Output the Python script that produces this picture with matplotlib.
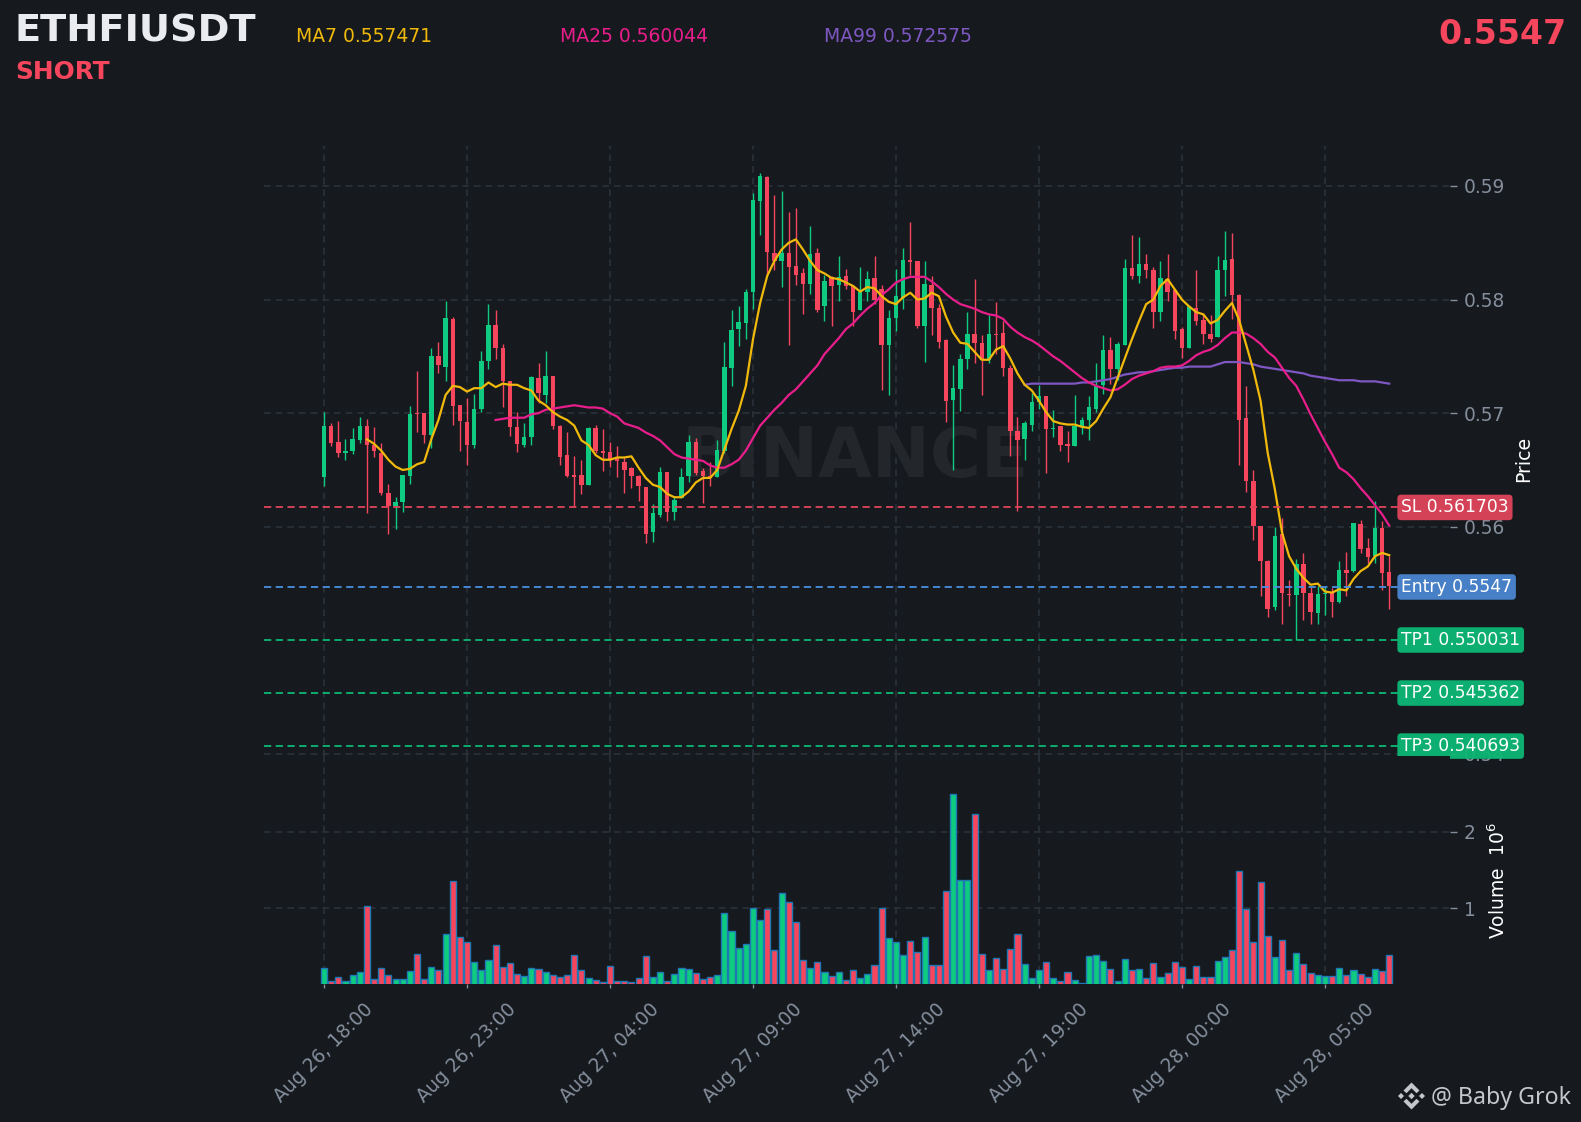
import matplotlib
matplotlib.use('Agg')
import matplotlib.pyplot as plt
from matplotlib.patches import Polygon
from matplotlib.transforms import blended_transform_factory

# candle data (15 min candles)
opens = [
    .5644, .5689, .5675, .5665, .5667, .5676, .5689, .5672, .5665, .5630,
    .5618, .5622, .5645, .5700, .5700, .5681, .5750, .5741, .5783, .5707,
    .5692, .5672, .5704, .5746, .5778, .5757, .5728, .5688, .5672, .5679,
    .5731, .5716, .5733, .5689, .5663, .5646, .5646, .5637, .5687, .5667,
    .5666, .5661, .5657, .5652, .5645, .5635, .5595, .5610, .5648, .5613,
    .5625, .5645, .5675, .5649, .5645, .5644, .5667, .5740, .5774, .5779,
    .5807, .5887, .5908, .5841, .5834, .5841, .5830, .5823, .5814, .5841,
    .5794, .5820, .5813, .5821, .5812, .5791, .5807, .5819, .5809, .5760,
    .5784, .5801, .5835, .5834, .5777, .5813, .5793, .5764, .5712, .5721,
    .5748, .5770, .5762, .5747, .5770, .5771, .5740, .5684, .5677, .5690,
    .5710, .5715, .5686, .5689, .5673, .5671, .5688, .5694, .5704, .5725,
    .5756, .5739, .5760, .5828, .5821, .5831, .5826, .5789, .5818, .5808,
    .5774, .5757, .5793, .5782, .5770, .5767, .5826, .5836, .5804, .5696,
    .5640, .5601, .5570, .5529, .5594, .5541, .5540, .5567, .5542, .5524,
    .5541, .5543, .5534, .5562, .5561, .5602, .5581, .5574, .5599, .5560,
]
highs = [
    .5701, .5691, .5693, .5677, .5687, .5697, .5695, .5688, .5674, .5638,
    .5626, .5646, .5706, .5737, .5700, .5757, .5763, .5799, .5785, .5707,
    .5713, .5717, .5755, .5796, .5791, .5761, .5728, .5701, .5691, .5733,
    .5744, .5755, .5733, .5690, .5683, .5662, .5659, .5688, .5690, .5686,
    .5675, .5671, .5661, .5653, .5646, .5635, .5620, .5653, .5648, .5627,
    .5652, .5681, .5678, .5652, .5657, .5676, .5763, .5791, .5794, .5809,
    .5894, .5911, .5909, .5892, .5896, .5877, .5881, .5828, .5865, .5845,
    .5822, .5821, .5838, .5827, .5812, .5829, .5825, .5838, .5813, .5791,
    .5827, .5845, .5868, .5834, .5834, .5821, .5796, .5765, .5742, .5752,
    .5789, .5818, .5769, .5786, .5798, .5781, .5742, .5697, .5693, .5718,
    .5725, .5715, .5703, .5689, .5684, .5716, .5697, .5715, .5744, .5769,
    .5767, .5763, .5836, .5857, .5855, .5840, .5829, .5834, .5840, .5808,
    .5776, .5794, .5826, .5787, .5786, .5838, .5860, .5859, .5805, .5724,
    .5650, .5601, .5571, .5600, .5608, .5553, .5572, .5577, .5548, .5548,
    .5548, .5546, .5570, .5578, .5603, .5606, .5590, .5623, .5605, .5574,
]
lows = [
    .5636, .5671, .5661, .5659, .5664, .5674, .5612, .5661, .5628, .5594,
    .5598, .5613, .5638, .5683, .5674, .5669, .5735, .5728, .5690, .5667,
    .5654, .5669, .5701, .5739, .5748, .5705, .5680, .5666, .5670, .5672,
    .5709, .5709, .5686, .5654, .5644, .5618, .5629, .5637, .5665, .5649,
    .5653, .5644, .5630, .5634, .5623, .5586, .5587, .5609, .5605, .5606,
    .5625, .5639, .5646, .5621, .5636, .5644, .5665, .5724, .5759, .5765,
    .5792, .5857, .5822, .5826, .5811, .5760, .5813, .5787, .5805, .5789,
    .5781, .5777, .5799, .5809, .5777, .5791, .5799, .5796, .5720, .5716,
    .5772, .5792, .5822, .5775, .5745, .5769, .5757, .5692, .5650, .5702,
    .5739, .5744, .5716, .5744, .5752, .5733, .5662, .5614, .5659, .5684,
    .5704, .5647, .5679, .5667, .5657, .5671, .5682, .5676, .5701, .5717,
    .5726, .5729, .5760, .5818, .5815, .5819, .5775, .5781, .5799, .5765,
    .5749, .5757, .5778, .5761, .5763, .5767, .5803, .5783, .5654, .5631,
    .5588, .5539, .5521, .5527, .5514, .5530, .5500, .5518, .5514, .5514,
    .5522, .5521, .5533, .5539, .5560, .5577, .5568, .5568, .5544, .5528,
]
closes = [
    .5689, .5674, .5665, .5667, .5677, .5689, .5672, .5667, .5630, .5618,
    .5622, .5646, .5699, .5699, .5681, .5750, .5742, .5784, .5706, .5693,
    .5672, .5704, .5746, .5778, .5757, .5728, .5688, .5673, .5679, .5732,
    .5718, .5733, .5689, .5661, .5645, .5644, .5637, .5687, .5667, .5665,
    .5660, .5658, .5650, .5645, .5636, .5594, .5612, .5648, .5613, .5624,
    .5644, .5675, .5647, .5645, .5643, .5668, .5741, .5773, .5780, .5807,
    .5888, .5909, .5842, .5834, .5841, .5829, .5822, .5814, .5840, .5791,
    .5816, .5812, .5820, .5812, .5789, .5807, .5818, .5800, .5760, .5784,
    .5803, .5835, .5833, .5777, .5814, .5793, .5763, .5711, .5722, .5748,
    .5770, .5762, .5747, .5770, .5769, .5740, .5684, .5676, .5691, .5710,
    .5715, .5686, .5687, .5672, .5671, .5689, .5694, .5705, .5724, .5756,
    .5739, .5761, .5828, .5821, .5831, .5826, .5789, .5819, .5807, .5772,
    .5757, .5794, .5781, .5770, .5765, .5826, .5835, .5804, .5694, .5640,
    .5601, .5570, .5528, .5592, .5542, .5540, .5567, .5542, .5525, .5541,
    .5542, .5534, .5562, .5559, .5603, .5580, .5573, .5599, .5559, .5548,
]
# volume in millions
volumes = [
    .227, .052, .105, .052, .135, .175, 1.035, .079, .227, .135,
    .079, .079, .188, .41, .079, .24, .20, .66, 1.354, .633,
    .555, .306, .20, .332, .528, .24, .293, .148, .122, .227,
    .214, .175, .135, .109, .135, .397, .20, .096, .07, .044,
    .253, .057, .057, .044, .096, .384, .109, .175, .057, .148,
    .227, .214, .162, .083, .109, .135, .934, .70, .489, .541,
    1.0, .843, .987, .463, 1.197, 1.079, .817, .332, .227, .306,
    .175, .122, .175, .07, .20, .096, .148, .266, 1.0, .62,
    .555, .397, .568, .437, .633, .266, .266, 1.223, 2.493, 1.367,
    1.367, 2.231, .41, .20, .358, .214, .476, .672, .279, .096,
    .20, .306, .096, .052, .175, .07, .026, .384, .397, .319,
    .214, .057, .345, .20, .214, .096, .293, .109, .162, .306,
    .24, .083, .253, .109, .109, .319, .371, .463, 1.485, .987,
    .555, 1.341, .646, .371, .581, .20, .424, .279, .162, .135,
    .122, .122, .227, .135, .20, .148, .109, .214, .188, .397,
]

# moving averages as drawn, each starts later than the candles
ma7_start = 6
ma7 = [
    .5677, .5673, .5667, .5659,
    .5653, .5650, .5651, .5655, .5657, .5677, .5694, .5716, .5724, .5723,
    .5719, .5722, .5722, .5727, .5723, .5726, .5725, .5725, .5722, .5720,
    .5711, .5707, .5701, .5697, .5694, .5689, .5676, .5672, .5663, .5659,
    .5659, .5661, .5661, .5662, .5652, .5643, .5637, .5635, .5629, .5626,
    .5626, .5631, .5639, .5643, .5643, .5650, .5668, .5686, .5702, .5724,
    .5765, .5797, .5821, .5834, .5844, .5850, .5853, .5844, .5834, .5826,
    .5823, .5819, .5818, .5815, .5812, .5807, .5811, .5810, .5803, .5798,
    .5796, .5802, .5806, .5800, .5801, .5806, .5803, .5785, .5771, .5762,
    .5761, .5754, .5747, .5747, .5756, .5759, .5748, .5735, .5725, .5720,
    .5711, .5701, .5693, .5691, .5690, .5690, .5688, .5687, .5693, .5704,
    .5714, .5731, .5748, .5765, .5781, .5796, .5800, .5812, .5818, .5809,
    .5800, .5794, .5789, .5787, .5779, .5782, .5790, .5797, .5782, .5760,
    .5738, .5711, .5665, .5633, .5595, .5574, .5563, .5555, .5549, .5550,
    .5543, .5542, .5545, .5544, .5554, .5561, .5565, .5574, .5577, .5575,
]
ma25_start = 24
ma25 = [
    .5694, .5695, .5696, .5696, .5696, .5699,
    .5700, .5703, .5704, .5705, .5706, .5707, .5706, .5705, .5705, .5704,
    .5700, .5697, .5691, .5689, .5687, .5683, .5680, .5676, .5670, .5664,
    .5661, .5660, .5659, .5658, .5654, .5652, .5652, .5655, .5659, .5667,
    .5678, .5689, .5696, .5703, .5709, .5716, .5721, .5728, .5735, .5742,
    .5752, .5759, .5766, .5774, .5779, .5786, .5792, .5797, .5804, .5809,
    .5815, .5818, .5820, .5820, .5820, .5816, .5811, .5805, .5800, .5796,
    .5794, .5792, .5789, .5787, .5786, .5783, .5776, .5771, .5767, .5764,
    .5760, .5755, .5750, .5746, .5741, .5736, .5731, .5727, .5724, .5722,
    .5720, .5721, .5725, .5730, .5733, .5735, .5737, .5740, .5741, .5741,
    .5742, .5746, .5751, .5754, .5756, .5760, .5766, .5771, .5771, .5770,
    .5766, .5761, .5754, .5749, .5740, .5731, .5724, .5712, .5699, .5687,
    .5675, .5664, .5652, .5648, .5642, .5634, .5627, .5619, .5611, .5601,
]
ma99_start = 98
ma99 = [
    .5725, .5726,
    .5726, .5726, .5726, .5726, .5726, .5726, .5727, .5727, .5728, .5729,
    .5730, .5732, .5734, .5735, .5736, .5736, .5737, .5738, .5739, .5740,
    .5740, .5741, .5741, .5741, .5741, .5743, .5745, .5745, .5745, .5744,
    .5743, .5741, .5740, .5739, .5738, .5737, .5736, .5735, .5733, .5732,
    .5731, .5730, .5729, .5729, .5729, .5728, .5728, .5728, .5727, .5726,
]

symbol = 'ETHFIUSDT'
side = 'SHORT'
last_price = '0.5547'
ma_labels = ['MA7 0.557471', 'MA25 0.560044', 'MA99 0.572575']

tick_every = 20
tick_labels = ['Aug 26, 18:00', 'Aug 26, 23:00', 'Aug 27, 04:00', 'Aug 27, 09:00',
               'Aug 27, 14:00', 'Aug 27, 19:00', 'Aug 28, 00:00', 'Aug 28, 05:00']
price_ticks = [0.54, 0.56, 0.57, 0.58, 0.59]
volume_ticks = [1, 2]

level_names = ['SL', 'Entry', 'TP1', 'TP2', 'TP3']
level_values = [0.561703, 0.5547, 0.550031, 0.545362, 0.540693]
level_text = ['0.561703', '0.5547', '0.550031', '0.545362', '0.540693']

BG = '#161A1E'
GRID = '#2B3139'
GREY = '#848E9C'
GREEN = '#0ECB81'
RED = '#F6465D'
level_line = ['#E0455B', '#4A8FE0', '#0DB875', '#0DB875', '#0DB875']
level_box = ['#E0455B', '#4A86D0', '#0DB875', '#0DB875', '#0DB875']

W, H = 1581, 1122
fig = plt.figure(figsize=(W / 100, H / 100), dpi=100, facecolor=BG)


def rect(x0, y0, x1, y1):
    return [x0 / W, 1 - y1 / H, (x1 - x0) / W, (y1 - y0) / H]


ax = fig.add_axes(rect(264, 146, 1450, 756), facecolor=BG)
ax_vol = fig.add_axes(rect(264, 756, 1450, 984), facecolor=BG, sharex=ax)

xs = list(range(len(closes)))
colors = [GREEN if c >= o else RED for o, c in zip(opens, closes)]

# candles
ax.vlines(xs, lows, highs, colors=colors, linewidth=1.0, zorder=3)
bottoms = [min(o, c) for o, c in zip(opens, closes)]
heights = [max(abs(c - o), 0.00006) for o, c in zip(opens, closes)]
ax.bar(xs, heights, bottom=bottoms, width=0.62, color=colors, linewidth=0, zorder=3)

ax.plot(range(ma99_start, ma99_start + len(ma99)), ma99, color='#7E57C2', lw=1.6, zorder=4)
ax.plot(range(ma25_start, ma25_start + len(ma25)), ma25, color='#E91E8C', lw=1.6, zorder=5)
ax.plot(range(ma7_start, ma7_start + len(ma7)), ma7, color='#F0B90B', lw=1.6, zorder=6)

ax.set_xlim(-8.4, 157.5)
ax.set_ylim(0.53982, 0.59352)
ax.text(0.4985, 0.49, 'BINANCE', transform=ax.transAxes, ha='center', va='center',
        fontsize=50, fontweight='bold', color='#23272B', zorder=1)

# trade levels with tags
tr = blended_transform_factory(ax.transAxes, ax.transData)
for name, val, txt, lc, bc in zip(level_names, level_values, level_text, level_line, level_box):
    ax.plot([0, 0.956], [val, val], transform=tr, color=lc, lw=1.3, ls=(0, (4, 2.5)), zorder=7)
    ax.text(0.9588, val, f'{name} {txt}', transform=tr, ha='left', va='center', fontsize=12.3,
            color='white', zorder=20, clip_on=False,
            bbox=dict(boxstyle='round,pad=0.22', fc=bc, ec='none', alpha=0.95))

# volume
ax_vol.bar(xs, volumes, width=0.85, color=colors, edgecolor='#1F77B4', linewidth=1.0, zorder=3)
ax_vol.set_ylim(0.013, 2.99)

for a in (ax, ax_vol):
    a.grid(True, color=GRID, ls=(0, (4, 3)), lw=1.2)
    a.set_axisbelow(True)
    for s in a.spines.values():
        s.set_visible(False)
    a.yaxis.tick_right()
    a.yaxis.set_label_position('right')
    a.tick_params(axis='y', colors=GREY, labelsize=13.4, length=5, width=1, pad=5)

ax.set_yticks(price_ticks)
ax.set_yticklabels([f'{p:.2f}' for p in price_ticks])
ax_vol.set_yticks(volume_ticks)
ax_vol.set_xticks(xs[::tick_every])
ax_vol.set_xticklabels(tick_labels, rotation=45, ha='center')
ax_vol.tick_params(axis='x', colors=GREY, labelsize=13.4, length=3, width=1, pad=8)
ax.tick_params(axis='x', length=0, labelbottom=False)

fig.text(1524 / W, 1 - 459 / H, 'Price', rotation=90, ha='center', va='center', color='white', fontsize=13.6)
fig.text(1498 / W, 1 - 881 / H, 'Volume  $10^6$', rotation=90, ha='center', va='center', color='white', fontsize=13.5)

# header
fig.text(15 / W, 1 - 32 / H, symbol, ha='left', va='center', color='#EAECEF', fontsize=27.6, fontweight='bold')
fig.text(15 / W, 1 - 72 / H, side, ha='left', va='center', color=RED, fontsize=17.9, fontweight='bold')
fig.text(1566 / W, 1 - 34 / H, last_price, ha='right', va='center', color=RED, fontsize=23.9, fontweight='bold')
for lab, x, col in zip(ma_labels, [296, 560, 824], ['#F0B90B', '#E91E8C', '#7E57C2']):
    fig.text(x / W, 1 - 37 / H, lab, ha='left', va='center', color=col, fontsize=13.5)

# footer with the exchange logo
fig.text(1431 / W, 1 - 1098 / H, '@ Baby Grok', ha='left', va='center', color='#C4C7CB',
         fontsize=16.7, family='Noto Sans')
cx, cy = 1411.5, 1096
logo = [
    [(-13.5, 0), (-10.5, -3), (-7.5, 0), (-10.5, 3)],
    [(13.5, 0), (10.5, -3), (7.5, 0), (10.5, 3)],
    [(-3.2, 0), (0, -3.2), (3.2, 0), (0, 3.2)],
    [(0, -13.5), (8, -5.5), (5, -2.8), (0, -7.8), (-5, -2.8), (-8, -5.5)],
    [(0, 13.5), (8, 5.5), (5, 2.8), (0, 7.8), (-5, 2.8), (-8, 5.5)],
]
for pts in logo:
    fig.add_artist(Polygon([((cx + px) / W, 1 - (cy + py) / H) for px, py in pts], closed=True,
                           transform=fig.transFigure, fc='#C4C7CB', ec='none'))

fig.savefig('out.png', dpi=100, facecolor=BG)
